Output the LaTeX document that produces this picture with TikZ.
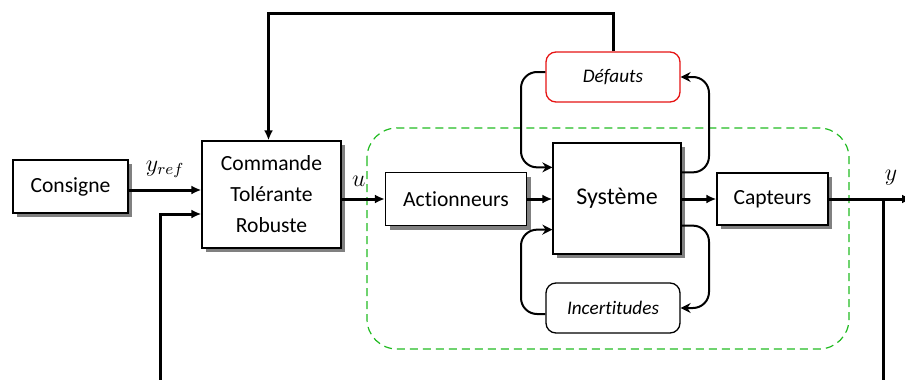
\documentclass[tikz,border=0pt]{standalone}
\usepackage{fontspec}
\setmainfont{Carlito}[Ligatures=NoCommon]
\usetikzlibrary{arrows.meta,shadows}
\definecolor{groupgreen}{RGB}{34,187,34}
\definecolor{faultred}{RGB}{230,20,20}

\begin{document}
\begin{tikzpicture}[
    x=0.5pt, y=-0.5pt,
    block/.style={draw,line width=0.65pt,fill=white,align=center,inner sep=0pt,
        drop shadow={shadow xshift=2pt,shadow yshift=-2pt,fill=black!50,opacity=1},
        font=\fontsize{10.8pt}{15.5pt}\selectfont},
    eventbox/.style={draw,line width=0.65pt,fill=white,rounded corners=5pt,
        minimum width=67pt,minimum height=25pt,inner sep=0pt,
        font=\itshape\fontsize{9.6pt}{12pt}\selectfont},
    signal/.style={line width=1.5pt,-{Latex[length=5pt,width=4.5pt]}},
    feedline/.style={line width=1pt,rounded corners=8pt,-{Stealth[length=5pt,width=5pt]}},
    lbl/.style={font=\fontsize{12pt}{14pt}\selectfont}
]
    \useasboundingbox (0,0) rectangle (905,380);
    \clip (0,0) rectangle (905,380);

    % Process group
    \draw[groupgreen,line width=0.6pt,dash pattern=on 4pt off 2.5pt,rounded corners=15pt]
        (367,128) rectangle (849,349);

    % Blocks
    \node[block,minimum width=57.5pt,minimum height=26.5pt] (consigne) at (70.5,186.5) {Consigne};
    \node[block,minimum width=69.5pt,minimum height=53.5pt] (commande) at (271.5,194.5) {Commande\\Tolérante\\Robuste};
    \node[block,minimum width=70.5pt,minimum height=26.5pt] (act) at (456,199) {Actionneurs};
    \node[block,minimum width=64pt,minimum height=55.5pt,font=\fontsize{12pt}{14pt}\selectfont] (sys) at (617,198.5) {Système};
    \node[block,minimum width=55.5pt,minimum height=26pt] (capt) at (772.5,199) {Capteurs};
    \node[eventbox,draw=faultred] (defauts) at (613,77) {Défauts};
    \node[eventbox] (incert) at (613,308) {Incertitudes};

    % Signals
    \coordinate (yin) at ([yshift=-1.75pt]consigne.east);
    \draw[signal] (yin) -- (yin -| commande.west) node[lbl,midway,above=2pt] {$y_{ref}$};
    \coordinate (fbin) at (160,385);
    \draw[signal] (fbin) |- ([yshift=-9.75pt]commande.west);
    \coordinate (ftop) at (613,13);
    \draw[signal] (defauts.north) |- (ftop) -| ([xshift=-1.5pt]commande.north);
    \draw[signal] (commande.east |- act.west) -- (act.west) node[lbl,pos=0.4,above=2pt] {$u$};
    \draw[signal] (act.east) -- (act.east -| sys.west);
    \draw[signal] (sys.east |- capt.west) -- (capt.west);
    \coordinate (yout) at (912,199);
    \draw[signal] (capt.east) -- (yout);
    \node[lbl] (ylab) at (891,178) {$y$};
    \coordinate (ybot) at (883,385);
    \draw[line width=1.5pt] (capt.east -| ybot) -- (ybot);

    % Faults and uncertainties loops
    \coordinate (lc) at (521,0);
    \coordinate (rc) at (709,0);
    \coordinate (s1) at ([yshift=-12.5pt]sys.north west);
    \coordinate (s2) at ([yshift=-15pt]sys.north east);
    \coordinate (s3) at ([yshift=12.5pt]sys.south west);
    \coordinate (s4) at ([yshift=14.5pt]sys.south east);
    \draw[feedline] ([yshift=2.5pt]defauts.west) -| (s1 -| lc) -- (s1);
    \draw[feedline] (s2) -| (defauts.east -| rc) -- (defauts.east);
    \draw[feedline] ([yshift=-3pt]incert.west) -| (s3 -| lc) -- (s3);
    \draw[feedline] (s4) -| (incert.east -| rc) -- (incert.east);
\end{tikzpicture}
\end{document}
